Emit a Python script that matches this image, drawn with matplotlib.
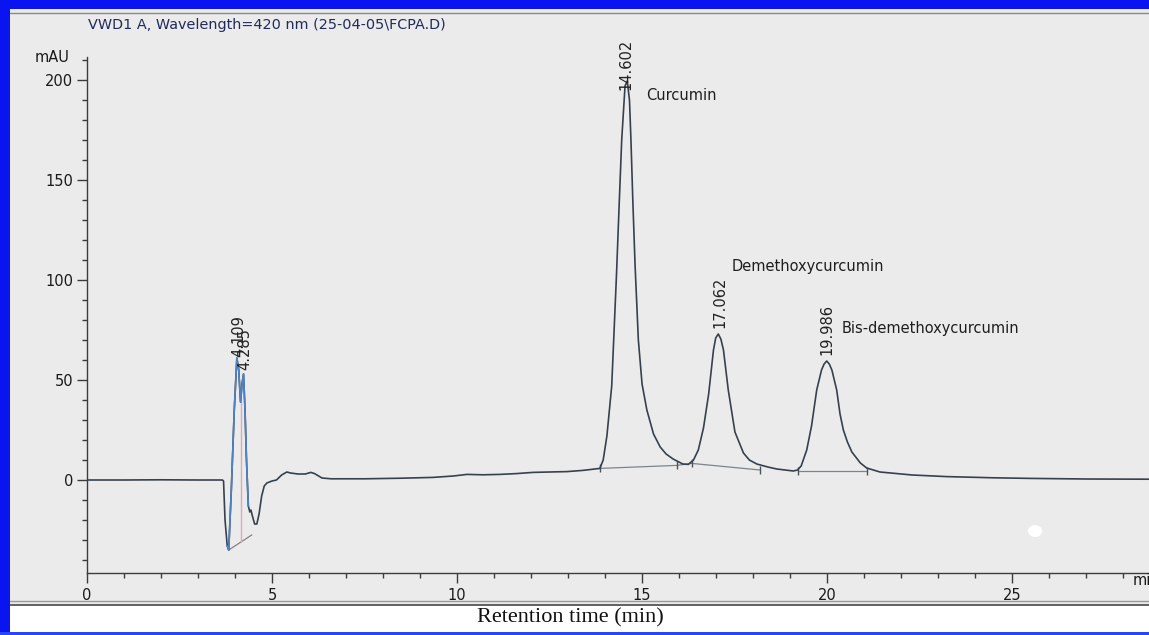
import matplotlib
matplotlib.use("Agg")
import matplotlib.pyplot as plt
from matplotlib.patches import Rectangle, Ellipse
from matplotlib.lines import Line2D
from matplotlib.ticker import MultipleLocator

# chromatogram trace (time in min, signal in mAU)
time_min = [0.0, 1.0, 2.0, 3.0, 3.66, 3.69, 3.73, 3.79, 3.83, 3.90, 3.98, 4.05,
            4.10, 4.15, 4.19, 4.23, 4.27, 4.31, 4.36, 4.40, 4.43, 4.47, 4.53,
            4.59, 4.65, 4.72, 4.79, 4.86, 5.0, 5.12, 5.26, 5.4, 5.5, 5.7, 5.9,
            6.05, 6.15, 6.35, 6.6, 7.5, 8.5, 9.35, 9.9, 10.27, 10.7, 11.16,
            11.6, 12.05, 12.5, 12.97, 13.4, 13.86, 13.95, 14.05, 14.18, 14.31,
            14.38, 14.45, 14.54, 14.60, 14.66, 14.70, 14.75, 14.81, 14.90, 15.0,
            15.13, 15.31, 15.49, 15.65, 15.84, 16.1, 16.25, 16.39, 16.52, 16.66,
            16.8, 16.93, 16.99, 17.06, 17.13, 17.2, 17.33, 17.51, 17.74, 17.9,
            18.1, 18.4, 18.64, 19.09, 19.2, 19.3, 19.45, 19.58, 19.72, 19.85,
            19.92, 19.99, 20.06, 20.13, 20.26, 20.35, 20.44, 20.55, 20.67, 20.9,
            21.07, 21.43, 22.3, 23.23, 24.5, 25.5, 27.0, 28.7]
signal_mau = [0.0, 0.0, 0.1, 0.0, 0.0, -0.5, -20, -33, -35, -5, 35, 61,
              55, 39, 48, 53, 35, 10, -13, -16, -15, -18, -22,
              -22, -17, -8, -3, -1.5, -0.5, 0.0, 2.5, 4.0, 3.5, 3.0, 3.0,
              3.8, 3.2, 1.0, 0.6, 0.6, 0.9, 1.3, 2.0, 2.8, 2.6, 2.8,
              3.2, 3.8, 4.0, 4.2, 4.8, 5.8, 10, 22, 47, 103,
              137, 170, 197, 199.5, 190, 170, 140, 108, 70, 48,
              35, 23, 16.5, 13, 10.5, 8.0, 7.8, 10, 15, 26,
              43, 65, 71, 73, 70.5, 65, 45, 24, 13.5, 10,
              8.0, 6.5, 5.5, 4.5, 5.0, 7.0, 15, 27, 45, 55,
              58, 59.5, 58, 55, 45, 33, 25, 19, 14, 8.5,
              6.0, 4.0, 2.5, 1.7, 1.1, 0.8, 0.5, 0.4]

# integration events (peak start / end on the drawn baselines)
base_t = [[13.86, 15.94, 16.34, 18.19], [19.22, 21.07]]
base_y = [[5.8, 7.3, 8.3, 5.0], [4.5, 4.5]]
early_base_t = [3.83, 4.45]
early_base_y = [-35, -27.5]
early_drop_t = 4.15
early_drop_y = [-30.5, 39]

# peak retention time labels: text, x, bottom y
rt_labels = ["4.109", "4.285", "14.602", "17.062", "19.986"]
rt_x = [4.09, 4.26, 14.56, 17.10, 19.99]
rt_y = [61.5, 55, 195, 76, 62.5]

# compound names: text, x, y
names = ["Curcumin", "Demethoxycurcumin", "Bis-demethoxycurcumin"]
name_x = [15.12, 17.43, 20.4]
name_y = [192, 106.5, 76]

W, H = 1149, 635
fig = plt.figure(figsize=(W / 100, H / 100), dpi=100)
fig.patch.set_facecolor("#ebebeb")

# white band, blue frame and the ruled lines of the scanned page
fig.patches.append(Rectangle((0, 0), 1, 30 / H, transform=fig.transFigure,
                             facecolor="white", edgecolor="none", zorder=0))
fig.patches.append(Rectangle((0, 0), 10 / W, 1, transform=fig.transFigure,
                             facecolor="#0a14f0", edgecolor="none", zorder=5))
fig.patches.append(Rectangle((0, 1 - 9 / H), 1, 9 / H, transform=fig.transFigure,
                             facecolor="#0a14f0", edgecolor="none", zorder=5))
fig.patches.append(Rectangle((0, 0), 1, 3 / H, transform=fig.transFigure,
                             facecolor="#2a46f0", edgecolor="none", zorder=5))
fig.lines.append(Line2D([10 / W, 1], [1 - 13 / H] * 2, transform=fig.transFigure,
                        color="#8a8a8a", lw=1))
fig.lines.append(Line2D([10 / W, 1], [1 - 601 / H] * 2, transform=fig.transFigure,
                        color="#9a9a9a", lw=1))
fig.lines.append(Line2D([10 / W, 1], [1 - 604.5 / H] * 2, transform=fig.transFigure,
                        color="#555555", lw=1.3))

ax = fig.add_axes([87 / W, 1 - 573 / H, 1 - 87 / W, (573 - 57) / H])
ax.patch.set_alpha(0)

trace_col = "#36414e"
ax.plot(time_min, signal_mau, color=trace_col, lw=1.2, zorder=3)
i0 = time_min.index(3.79)
i1 = time_min.index(4.36)
ax.plot(time_min[i0:i1 + 1], signal_mau[i0:i1 + 1], color="#4f82c4", lw=1.2, zorder=4)

for bt, by in zip(base_t, base_y):
    ax.plot(bt, by, color="#7d848c", lw=0.9, zorder=2)
    ax.plot(bt, by, ls="none", marker="|", ms=6, color="#4a525a", zorder=2)
ax.plot(early_base_t, early_base_y, color="#8c7f88", lw=0.9, zorder=2)
ax.plot([early_drop_t] * 2, early_drop_y, color="#e0a7b6", lw=1.0, zorder=2)

for lab, x, y in zip(rt_labels, rt_x, rt_y):
    ax.text(x, y, lab, rotation=90, ha="center", va="bottom", fontsize=10.5,
            color="#222222", clip_on=False, zorder=6)
for lab, x, y in zip(names, name_x, name_y):
    ax.text(x, y, lab, ha="left", va="center", fontsize=10.5, color="#1e1e1e")

# scanner speck
ax.add_patch(Ellipse((25.62, -25.5), 0.38, 6, facecolor="white", edgecolor="none"))

ax.set_xlim(0, 28.7)
ax.set_ylim(-46.5, 211.5)
ax.set_xticks([0, 5, 10, 15, 20, 25])
ax.set_yticks([0, 50, 100, 150, 200])
ax.xaxis.set_minor_locator(MultipleLocator(1))
ax.yaxis.set_minor_locator(MultipleLocator(10))
for s in ["top", "right"]:
    ax.spines[s].set_visible(False)
for s in ["left", "bottom"]:
    ax.spines[s].set_color("#3c3c3c")
    ax.spines[s].set_linewidth(1.0)
ax.tick_params(axis="both", which="major", direction="out", length=7, width=1,
               color="#3c3c3c", labelsize=10.5, labelcolor="#1a1a1a")
ax.tick_params(axis="both", which="minor", direction="out", length=3.5, width=1,
               color="#3c3c3c")
ax.tick_params(axis="y", which="major", pad=3)
ax.tick_params(axis="x", which="major", pad=4)

# axis unit at the right end, cut by the page edge as in the scan
ax.text(28.27, -46.5, "min", transform=ax.transData, ha="left", va="top",
        fontsize=10.5, color="#1a1a1a", clip_on=False)

fig.text(70 / W, 1 - 57 / H, "mAU", ha="right", va="center", fontsize=10.5,
         color="#1a1a1a")
fig.text(88 / W, 1 - 25 / H, "VWD1 A, Wavelength=420 nm (25-04-05\\FCPA.D)",
         ha="left", va="center", fontsize=10.4, color="#1f2b5c")
fig.text(570 / W, 1 - 608 / H, "Retention time (min)", ha="center", va="top",
         fontsize=16, family="Liberation Serif", color="#111111")

fig.savefig("out.png", dpi=100)
